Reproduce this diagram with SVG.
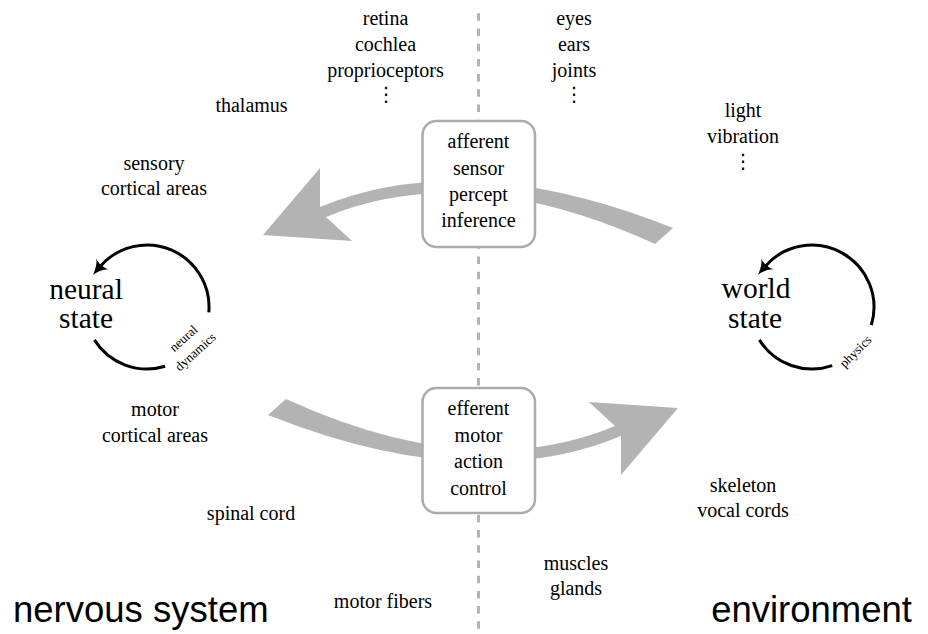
<svg xmlns="http://www.w3.org/2000/svg" xmlns:xlink="http://www.w3.org/1999/xlink" width="928" height="634" viewBox="0 0 928 634">
  <style>
    .t { font-family: "Liberation Serif", "Times New Roman", serif; font-size: 20px; fill: #000; text-anchor: middle; }
    .big { font-family: "Liberation Serif", "Times New Roman", serif; font-size: 29.5px; fill: #000; text-anchor: middle; }
    .small { font-family: "Liberation Serif", "Times New Roman", serif; font-size: 13px; fill: #000; text-anchor: middle; }
    .sans { font-family: "Liberation Sans", Arial, sans-serif; font-size: 36.5px; fill: #000; }
    .dots { font-family: "DejaVu Serif", "DejaVu Sans", serif; font-size: 20px; fill: #000; text-anchor: middle; }
    .box { fill: #fff; stroke: #ababab; stroke-width: 2.5; }
    .divider { stroke: #b3b3b3; stroke-width: 3; stroke-dasharray: 7.5 7.7; fill: none; }
    .flow { fill: #b3b3b3; stroke: none; }
    .loop { fill: none; stroke: #000; stroke-width: 3; }
  </style>
  <defs>
    <marker id="ah" viewBox="-12 -10 26 20" markerWidth="26" markerHeight="20" refX="0" refY="0" orient="auto" markerUnits="userSpaceOnUse">
      <path d="M11,0 C4.5,-1.8 -1,-4.8 -3.5,-8.5 C-1,-3.5 -1,3.5 -3.5,8.5 C-1,4.8 4.5,1.8 11,0 Z" fill="#000"/>
    </marker>
    <path id="bigArrow" d="M263,235 L320,168 L320,207 Q467,146 673,228 L655,244 Q467,158 326,217 L352,241 Z"/>
  </defs>

  <rect width="928" height="634" fill="#fff"/>

  <line class="divider" x1="478.5" y1="13.3" x2="478.5" y2="634"/>

  <g id="connectors">
    <use xlink:href="#bigArrow" href="#bigArrow" class="flow"/>
    <use xlink:href="#bigArrow" href="#bigArrow" class="flow" transform="rotate(180 470.5 321.5)"/>
    <path class="loop" d="M208.8,312.4 A62,62 0 0 0 100.2,266.4" marker-end="url(#ah)"/>
    <path class="loop" d="M94.4,339.9 A62,62 0 0 0 165.1,366.3"/>
    <path class="loop" d="M871.3,325.1 A62,62 0 0 0 765.2,266.4" marker-end="url(#ah)"/>
    <path class="loop" d="M759.4,339.9 A62,62 0 0 0 832.2,365.6"/>
    <text class="small" transform="translate(186.3,341.6) rotate(-42)">neural<tspan x="0" y="18">dynamics</tspan></text>
    <text class="small" transform="translate(858.5,354.5) rotate(-45)">physics</text>
  </g>

  <g id="afferent">
    <rect class="box" x="422.5" y="121" width="112.5" height="126" rx="14"/>
    <text class="t" x="478.5" y="148">afferent</text>
    <text class="t" x="478.5" y="174.5">sensor</text>
    <text class="t" x="478.5" y="200.5">percept</text>
    <text class="t" x="478.5" y="226.5">inference</text>
  </g>

  <g id="efferent">
    <rect class="box" x="422.5" y="388" width="112.5" height="125" rx="14"/>
    <text class="t" x="478.5" y="415">efferent</text>
    <text class="t" x="478.5" y="441.5">motor</text>
    <text class="t" x="478.5" y="468">action</text>
    <text class="t" x="478.5" y="494.5">control</text>
  </g>

  <g id="neural-state">
    <text class="big" x="86" y="299">neural</text>
    <text class="big" x="86" y="328">state</text>
  </g>

  <g id="world-state">
    <text class="big" x="756" y="298">world</text>
    <text class="big" x="755" y="328">state</text>
  </g>

  <g id="sensory-organs">
    <text class="t" x="385.5" y="25">retina</text>
    <text class="t" x="385.5" y="51">cochlea</text>
    <text class="t" x="385.5" y="77">proprioceptors</text>
    <text class="dots" x="386" y="101">⋮</text>
  </g>

  <g id="body-sensors">
    <text class="t" x="574" y="25">eyes</text>
    <text class="t" x="574" y="51">ears</text>
    <text class="t" x="574" y="77">joints</text>
    <text class="dots" x="574" y="101">⋮</text>
  </g>

  <g id="stimuli">
    <text class="t" x="743" y="117">light</text>
    <text class="t" x="743" y="143">vibration</text>
    <text class="dots" x="743" y="168">⋮</text>
  </g>

  <g id="thalamus">
    <text class="t" x="251.5" y="112">thalamus</text>
  </g>

  <g id="sensory-cortex">
    <text class="t" x="154" y="170">sensory</text>
    <text class="t" x="154" y="195">cortical areas</text>
  </g>

  <g id="motor-cortex">
    <text class="t" x="155" y="416">motor</text>
    <text class="t" x="155" y="442">cortical areas</text>
  </g>

  <g id="spinal-cord">
    <text class="t" x="251" y="520">spinal cord</text>
  </g>

  <g id="motor-fibers">
    <text class="t" x="383" y="608">motor fibers</text>
  </g>

  <g id="effectors">
    <text class="t" x="576" y="570">muscles</text>
    <text class="t" x="576" y="595">glands</text>
  </g>

  <g id="body">
    <text class="t" x="743" y="492">skeleton</text>
    <text class="t" x="743" y="517">vocal cords</text>
  </g>

  <g id="nervous-system">
    <text class="sans" x="13" y="622">nervous system</text>
  </g>

  <g id="environment">
    <text class="sans" x="912" y="622" text-anchor="end">environment</text>
  </g>
</svg>
